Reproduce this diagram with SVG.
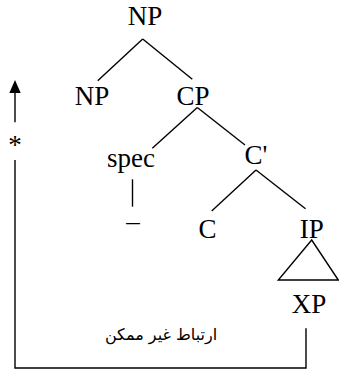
<svg xmlns="http://www.w3.org/2000/svg" width="339" height="372" viewBox="0 0 339 372">
<style>
.t{font-family:"Liberation Serif","Times New Roman",serif;font-size:27px;fill:#000;text-anchor:middle}
.e{stroke:#000;stroke-width:1.4;fill:none}
.a{font-family:"DejaVu Sans","Noto Sans",sans-serif;font-size:16px;fill:#000;text-anchor:middle}
</style>
<rect width="339" height="372" fill="#fff"/>
<g id="connectors">
<line class="e" x1="142.7" y1="39" x2="97.7" y2="80.7"/>
<line class="e" x1="142.7" y1="39" x2="192.3" y2="79.3"/>
<line class="e" x1="197.3" y1="107.5" x2="152.3" y2="148.3"/>
<line class="e" x1="197.3" y1="107.5" x2="245" y2="145"/>
<line class="e" x1="132.5" y1="179.3" x2="132.5" y2="206.7"/>
<line class="e" x1="256" y1="170" x2="211.7" y2="211"/>
<line class="e" x1="256" y1="170" x2="305.5" y2="208.8"/>
<polygon class="e" points="311.7,240 278.3,280 338.3,280"/>
<polyline class="e" points="306,328.3 306,368 15,368 15,160"/>
<line class="e" x1="15" y1="122.3" x2="15" y2="92"/>
<polygon points="15,80 9.3,93 20.7,93" fill="#000"/>
</g>
<g id="n-np-top"><text class="t" x="145" y="25">NP</text></g>
<g id="n-np-left"><text class="t" x="92" y="104.5">NP</text></g>
<g id="n-cp"><text class="t" x="193" y="104.5">CP</text></g>
<g id="n-spec"><text class="t" x="131" y="166.7">spec</text></g>
<g id="n-gap"><text class="t" x="133" y="220.5">_</text></g>
<g id="n-cbar"><text class="t" x="256" y="164">C'</text></g>
<g id="n-c"><text class="t" x="207.5" y="238.3">C</text></g>
<g id="n-ip"><text class="t" x="311.7" y="238.3">IP</text></g>
<g id="n-xp"><text class="t" x="309" y="313">XP</text></g>
<g id="n-star"><text class="t" x="15" y="154">*</text></g>
<g id="n-label"><text class="a" x="161" y="340" direction="rtl">ارتباط غیر ممکن</text></g>
</svg>
